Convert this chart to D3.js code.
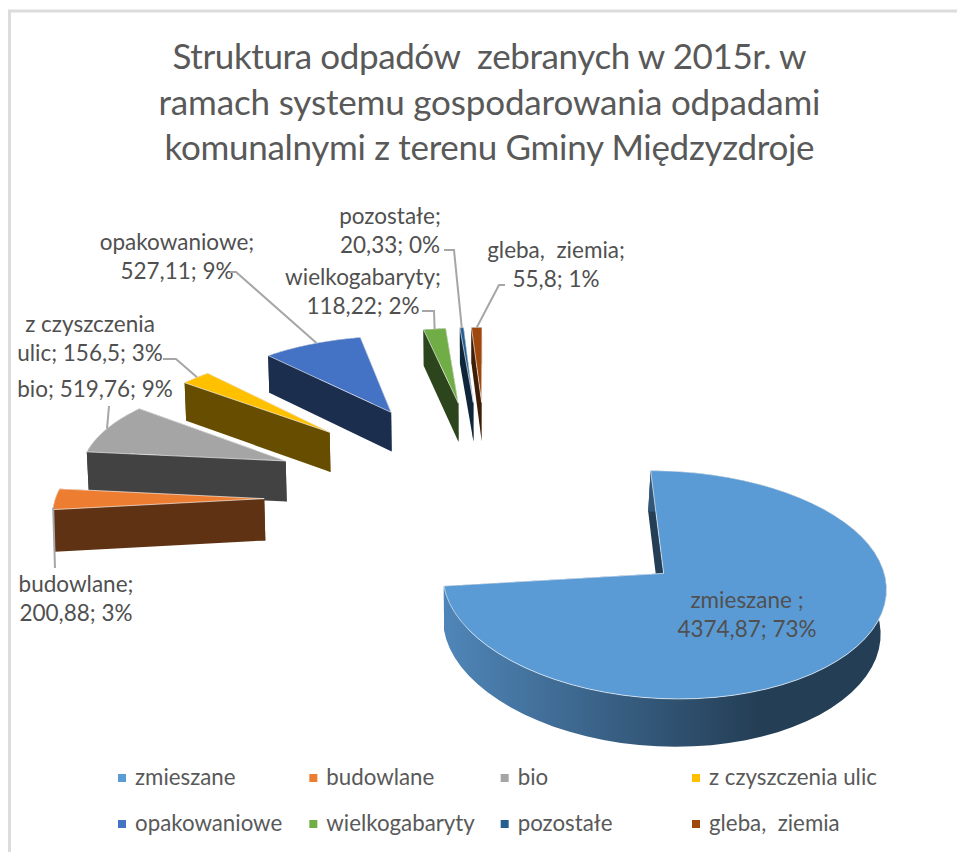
<!DOCTYPE html>
<html lang="pl">
<head>
  <meta charset="UTF-8">
  <title>Struktura odpadów</title>
  <script src="https://d3js.org/d3.v7.min.js"></script>
  <style>
    html, body { margin: 0; padding: 0; background: #fff; }
    svg { display: block; }
    text { font-family: Lato, "Open Sans", sans-serif; white-space: pre; }
    .title { font-size: 35px; fill: #595959; text-anchor: middle; }
    .label { font-size: 22.5px; fill: #505050; text-anchor: middle; }
    .legend { font-size: 22.3px; fill: #595959; }
    .leader { fill: none; stroke: #a6a6a6; stroke-width: 2; }
  </style>
</head>
<body>
  <svg width="957" height="852"></svg>

  <script>
    const categories = ['zmieszane', 'budowlane', 'bio', 'z czyszczenia ulic', 'opakowaniowe', 'wielkogabaryty', 'pozostałe', 'gleba,  ziemia'];
    const values = [4374.87, 200.88, 519.76, 156.5, 527.11, 118.22, 20.33, 55.8];
    const percents = ['73%', '3%', '9%', '3%', '9%', '2%', '0%', '1%'];
    const valueLabels = ['4374,87', '200,88', '519,76', '156,5', '527,11', '118,22', '20,33', '55,8'];
    const colors = ['#5b9bd5', '#ed7d31', '#a5a5a5', '#ffc000', '#4472c4', '#70ad47', '#255e91', '#9e480e'];
    const titleLines = ['Struktura odpadów  zebranych w 2015r. w', 'ramach systemu gospodarowania odpadami', 'komunalnymi z terenu Gminy Międzyzdroje'];
    const titleWidths = [634, 662, 650];

    const svg = d3.select('svg');

    // page frame left by the screenshot
    svg.append('path')
      .attr('d', 'M9.5,852V11H957')
      .attr('fill', 'none')
      .attr('stroke', '#dcdcdc')
      .attr('stroke-width', 3);

    svg.append('g').selectAll('text')
      .data(titleLines)
      .join('text')
      .attr('class', 'title')
      .attr('x', 489.5)
      .attr('y', (d, i) => 69 + i * 45.5)
      .attr('textLength', (d, i) => titleWidths[i])
      .text(d => d);

    // plane of the pie in units of the explosion distance -> screen, with perspective
    const radius = 0.935;
    const depth = 535;
    const vanishX = 487.7;
    const toScreenX = (x, y) => vanishX + 2770 * x / (12.4 + y);
    const toScreenY = y => -555 + 10531 / (10 + y);
    const project = (x, y) => [toScreenX(x, y), toScreenY(y)];
    const dropAt = y => depth / (12.8 + y);

    const pie = d3.pie().sort(null).value(d => d);
    const slices = pie(values).map((s, i) => {
      const mid = (s.startAngle + s.endAngle) / 2;
      return { i, start: s.startAngle, end: s.endAngle, ax: Math.sin(mid), ay: Math.cos(mid) };
    });

    const rimPoint = (s, a) => [s.ax + radius * Math.sin(a), s.ay + radius * Math.cos(a)];
    const arcAngles = (from, to) => d3.range(0, 61).map(k => from + (to - from) * k / 60);
    const line = d3.line();

    const upper = pts => pts.map(p => project(p[0], p[1]));
    const lower = pts => pts.map(p => {
      const q = project(p[0], p[1]);
      const dx = q[0] - vanishX;
      return [q[0] - dx * (dx > 0 ? 0.015 : 0.005), q[1] + dropAt(p[1])];
    });
    const wall = pts => line(upper(pts).concat(lower(pts).reverse())) + 'Z';

    const defs = svg.append('defs');
    const grad = defs.append('linearGradient')
      .attr('id', 'mainWall')
      .attr('gradientUnits', 'userSpaceOnUse')
      .attr('x1', 443).attr('x2', 760).attr('y1', 0).attr('y2', 0);
    grad.append('stop').attr('offset', 0).attr('stop-color', '#4f86b9');
    grad.append('stop').attr('offset', 1).attr('stop-color', '#243e55');

    const wallColor = c => {
      const r = d3.rgb(c);
      return d3.rgb(r.r * 0.4, r.g * 0.4, r.b * 0.4).formatHex();
    };

    // far slices first
    const order = slices.slice().sort((a, b) => b.ay - a.ay);
    const pieG = svg.append('g');
    order.forEach(s => {
      const c = colors[s.i];
      const apex = [s.ax, s.ay];
      const g = pieG.append('g');
      const rim = arcAngles(s.start, s.end).map(a => rimPoint(s, a));

      [[apex, rim[0]], [apex, rim[rim.length - 1]]].forEach(edge => {
        g.append('path')
          .attr('d', wall(edge))
          .attr('fill', wallColor(c));
      });
      g.append('path')
        .attr('d', wall(rim))
        .attr('fill', s.i === 0 ? 'url(#mainWall)' : wallColor(c));
      g.append('path')
        .attr('d', line(upper([apex].concat(rim))) + 'Z')
        .attr('fill', c)
        .attr('stroke', '#fff')
        .attr('stroke-opacity', 0.7)
        .attr('stroke-width', 0.9);
    });

    // hand placed data labels, index -> line centre, baselines
    const labelPlacement = [
      { x: 747, y: 608 },
      { x: 76, y: 592 },
      { x: 95, y: 397 },
      { x: 90, y: 332 },
      { x: 177, y: 250 },
      { x: 363, y: 285 },
      { x: 390, y: 224 },
      { x: 556, y: 258 }
    ];
    const labelLines = [
      [categories[0] + ' ;', valueLabels[0] + '; ' + percents[0]],
      [categories[1] + ';', valueLabels[1] + '; ' + percents[1]],
      [categories[2] + '; ' + valueLabels[2] + '; ' + percents[2]],
      ['z czyszczenia', 'ulic; ' + valueLabels[3] + '; ' + percents[3]],
      [categories[4] + ';', valueLabels[4] + '; ' + percents[4]],
      [categories[5] + ';', valueLabels[5] + '; ' + percents[5]],
      [categories[6] + ';', valueLabels[6] + '; ' + percents[6]],
      [categories[7] + ';', valueLabels[7] + '; ' + percents[7]]
    ];
    labelPlacement.forEach((p, i) => {
      svg.append('g').selectAll('text')
        .data(labelLines[i])
        .join('text')
        .attr('class', 'label')
        .attr('x', p.x)
        .attr('y', (d, k) => p.y + k * 28.5)
        .text(d => d);
    });

    // leader lines start at the label and end on the slice rim
    const leaders = [
      { i: 1, frac: 0.1, via: [[55, 568]] },
      { i: 2, frac: 0.5, via: [[109, 406]] },
      { i: 3, frac: 0.55, via: [[163, 359], [176, 359]] },
      { i: 4, frac: 0.55, via: [[230, 272], [236, 272]] },
      { i: 5, frac: 0.5, via: [[422, 311], [434, 311]] },
      { i: 6, frac: 0.5, via: [[444, 250], [454, 250]] },
      { i: 7, frac: 0.5, via: [[505, 285], [499, 285]] }
    ];
    svg.append('g').selectAll('path')
      .data(leaders)
      .join('path')
      .attr('class', 'leader')
      .attr('d', d => {
        const s = slices[d.i];
        const a = s.start + (s.end - s.start) * d.frac;
        const p = rimPoint(s, a);
        return line(d.via.concat([project(p[0], p[1])]));
      });

    // legend
    const legendX = d3.scalePoint().domain([0, 1, 2, 3]).range([118, 692]);
    const legendY = d3.scalePoint().domain([0, 1]).range([785, 831]);
    const legend = svg.append('g').selectAll('g')
      .data(categories)
      .join('g')
      .attr('transform', (d, i) => `translate(${legendX(i % 4)},${legendY(Math.floor(i / 4))})`);
    legend.append('rect')
      .attr('y', -11)
      .attr('width', 8)
      .attr('height', 8)
      .attr('fill', (d, i) => colors[i]);
    legend.append('text')
      .attr('class', 'legend')
      .attr('x', 17)
      .text(d => d);
  </script>
</body>
</html>
